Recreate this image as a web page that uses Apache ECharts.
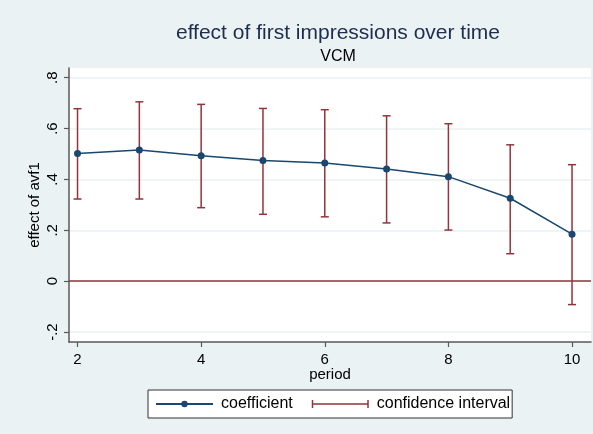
<!DOCTYPE html>
<html>
<head>
<meta charset="utf-8">
<script src="https://cdn.jsdelivr.net/npm/echarts@6/dist/echarts.min.js"></script>
<style>
  html, body { margin: 0; padding: 0; background: #eaf2f3; }
  #chart { width: 593px; height: 434px; }
</style>
</head>
<body>
<div id="chart"></div>
<script>
const periods = [2, 3, 4, 5, 6, 7, 8, 9, 10];
const coefficient = [0.502, 0.516, 0.493, 0.474, 0.465, 0.441, 0.411, 0.326, 0.185];
const ciLow = [0.323, 0.323, 0.289, 0.263, 0.253, 0.229, 0.201, 0.108, -0.092];
const ciHigh = [0.678, 0.705, 0.695, 0.679, 0.674, 0.650, 0.619, 0.536, 0.458];
const xTicks = [2, 4, 6, 8, 10];
const yTicks = [-0.2, 0, 0.2, 0.4, 0.6, 0.8];
const yTickLabels = ['-.2', '0', '.2', '.4', '.6', '.8'];

const navy = '#1a476f';
const maroon = '#90353b';
const font = "'Liberation Sans', Arial, sans-serif";

const chart = echarts.init(document.getElementById('chart'));

const option = {
  backgroundColor: '#eaf2f3',
  textStyle: { fontFamily: font },
  title: {
    text: 'effect of first impressions over time',
    subtext: 'VCM',
    left: 333,
    textAlign: 'center',
    top: 18,
    itemGap: 5,
    textStyle: { fontSize: 21, fontWeight: 'normal', color: '#1e2d4d', fontFamily: font },
    subtextStyle: { fontSize: 16, color: '#000', fontFamily: font }
  },
  grid: {
    left: 69, top: 68, right: 2, bottom: 92,
    show: true, backgroundColor: '#fff', borderWidth: 0
  },
  legend: {
    left: 148,
    top: 390,
    padding: [6, 2, 6, 7],
    backgroundColor: '#fff',
    borderColor: '#333',
    borderWidth: 1,
    borderRadius: 0,
    itemWidth: 57,
    itemHeight: 8,
    itemGap: 19,
    textStyle: { fontSize: 16, color: '#000', fontFamily: font, padding: [0, 0, 0, 3] },
    data: [
      { name: 'coefficient' },
      {
        name: 'confidence interval',
        icon: 'path://M0,0h1.5v8h-1.5z M0,3.25h57v1.5h-57z M55.5,0h1.5v8h-1.5z',
        itemStyle: { color: maroon }
      }
    ]
  },
  xAxis: {
    type: 'value',
    min: 1.862,
    max: 10.307,
    name: 'period',
    nameLocation: 'middle',
    nameGap: 25,
    nameMoveOverlap: false,
    nameTextStyle: { fontSize: 15, color: '#000' },
    axisLine: { show: true, onZero: false, lineStyle: { color: '#5a5a5a', width: 1.5 } },
    axisTick: { show: true, length: 5, customValues: xTicks, lineStyle: { color: '#5a5a5a', width: 1.2 } },
    axisLabel: { customValues: xTicks, fontSize: 15, color: '#000', margin: 10 },
    splitLine: { show: false }
  },
  yAxis: {
    type: 'value',
    min: -0.239,
    max: 0.838,
    name: 'effect of avf1',
    nameLocation: 'middle',
    nameRotate: 90,
    nameGap: 27,
    nameMoveOverlap: false,
    nameTextStyle: { fontSize: 15, color: '#000' },
    axisLine: { show: true, onZero: false, lineStyle: { color: '#5a5a5a', width: 1.5 } },
    axisTick: { show: true, length: 5, customValues: yTicks, lineStyle: { color: '#5a5a5a', width: 1.2 } },
    axisLabel: {
      customValues: yTicks,
      rotate: 90,
      fontSize: 15,
      color: '#000',
      margin: 9,
      formatter: v => {
        const i = yTicks.findIndex(t => Math.abs(t - v) < 1e-9);
        return i >= 0 ? yTickLabels[i] : '';
      }
    },
    splitLine: { show: true, lineStyle: { color: '#eaf2f3', width: 1.5 } }
  },
  series: [
    {
      name: 'coefficient',
      type: 'line',
      data: periods.map((p, i) => [p, coefficient[i]]),
      symbol: 'circle',
      symbolSize: 7,
      itemStyle: { color: navy },
      lineStyle: { color: navy, width: 1.5 },
      z: 5
    },
    {
      name: 'confidence interval',
      type: 'custom',
      data: periods.map((p, i) => [p, ciLow[i], ciHigh[i]]),
      encode: { x: 0, y: [1, 2] },
      itemStyle: { color: maroon },
      renderItem: (params, api) => {
        const lo = api.coord([api.value(0), api.value(1)]);
        const hi = api.coord([api.value(0), api.value(2)]);
        const cap = 4;
        const style = { stroke: maroon, lineWidth: 1.5 };
        return {
          type: 'group',
          children: [
            { type: 'line', shape: { x1: lo[0], y1: lo[1], x2: hi[0], y2: hi[1] }, style },
            { type: 'line', shape: { x1: hi[0] - cap, y1: hi[1], x2: hi[0] + cap, y2: hi[1] }, style },
            { type: 'line', shape: { x1: lo[0] - cap, y1: lo[1], x2: lo[0] + cap, y2: lo[1] }, style }
          ]
        };
      },
      markLine: {
        silent: true,
        symbol: 'none',
        label: { show: false },
        lineStyle: { color: maroon, width: 1.5, type: 'solid' },
        data: [{ yAxis: 0 }]
      },
      z: 3
    }
  ]
};

chart.setOption(option);
window.addEventListener('resize', () => {
  chart.resize();
});
</script>
</body>
</html>
